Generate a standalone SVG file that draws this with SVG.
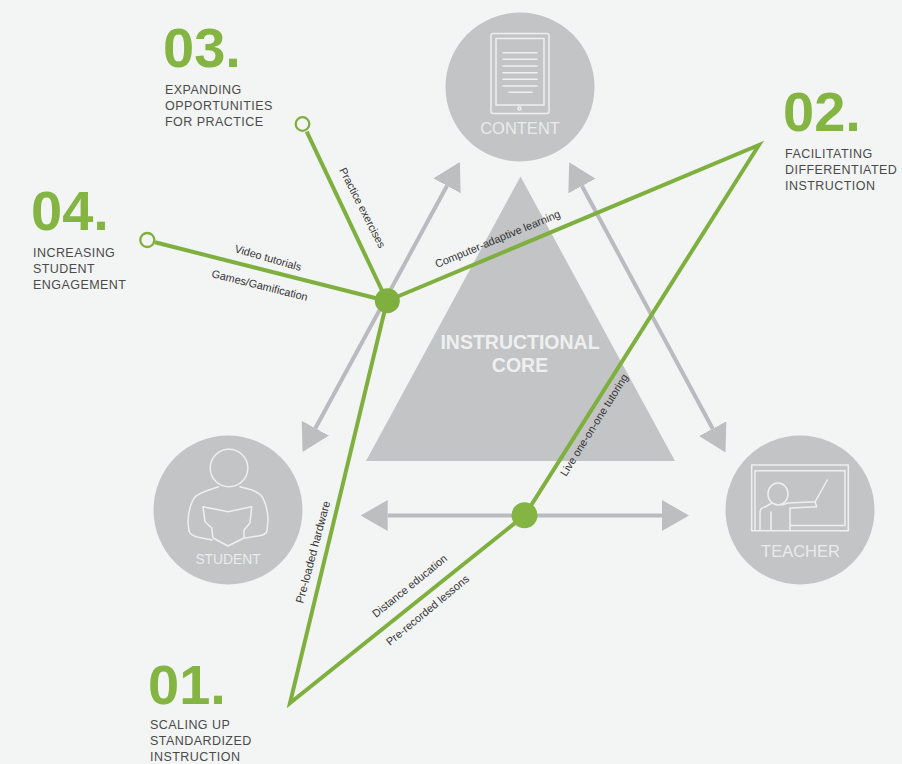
<svg xmlns="http://www.w3.org/2000/svg" width="902" height="764" viewBox="0 0 902 764">
<style>
.bg{fill:#f3f5f5}
.c{fill:#c2c4c6}
.ico{fill:none;stroke:#eef0f0;stroke-width:1.5;stroke-linejoin:round;stroke-linecap:round}
.cl{font:16.5px "Liberation Sans",Arial,sans-serif;fill:#e9ebec;text-anchor:middle}
.g{fill:none;stroke:#7fb03f;stroke-width:4;stroke-linecap:butt;stroke-linejoin:miter}
.a{fill:none;stroke:#b9bbbe;stroke-width:4}
.n{font:700 56px "Liberation Sans",Arial,sans-serif;fill:#84b441}
.d{font:12.5px "Liberation Sans",Arial,sans-serif;fill:#4a4a4a;letter-spacing:.45px}
.l{font:10.9px "Liberation Sans",Arial,sans-serif;fill:#333}
.core{font:700 19.5px "Liberation Sans",Arial,sans-serif;fill:#eef0f0;text-anchor:middle}
</style>
<defs>
<marker id="ah" viewBox="0 0 27 31" refX="0" refY="15.500" markerWidth="27" markerHeight="31" markerUnits="userSpaceOnUse" orient="auto-start-reverse"><path d="M0 0L27 15.500L0 31Z" fill="#bcbec0"/></marker>
</defs>
<rect class="bg" width="902" height="764"/>
<g id="core"><path d="M520.500 176.500L675 461H366Z" fill="#c2c4c6"/><text class="core" x="520" y="349">INSTRUCTIONAL</text><text class="core" x="520" y="372">CORE</text></g>
<g id="content"><circle class="c" cx="520" cy="87" r="74.500"/>
<g class="ico"><rect x="491" y="33.500" width="58" height="80" rx="2"/><path d="M496 38.500H544V105H496Z"/><path d="M503 52.700H537M503 59.300H537M503 66H537M503 72.700H537M503 79.300H537M503 86H537M509 92.300H532"/><circle cx="519.500" cy="108.500" r="1.500"/></g>
<text class="cl" x="520" y="134">CONTENT</text></g>
<g id="student"><circle class="c" cx="228" cy="510" r="74.500"/>
<g class="ico"><circle cx="229" cy="468" r="18.800"/><path d="M218.500 486.700L206 491Q195 495 193 500Q188 510 188 523L189 531Q190 535 197 537L212 540M240 486.700L252 490Q261 494 263 498Q268 509 268 520L267 531Q266 535 258 536L245 538M203 506.700L228 511.700L251.700 506.700L250 523L244 530V538L228 546L213 538L211.700 528L205 521.700Z"/></g>
<text class="cl" x="228" y="564" style="font-size:13.8px">STUDENT</text></g>
<g id="teacher"><circle class="c" cx="800" cy="510" r="74.500"/>
<g class="ico"><rect x="751.700" y="465" width="96.600" height="65.700"/><path d="M755 530V470.700H845V525.500H790M760 530V512Q760 508 765 507L771 503.500M771 530V512M790 530V508L816.700 506.700L815 501.700L788 503L781.700 505M815 502L827.300 480"/><ellipse cx="778" cy="494" rx="10" ry="11"/></g>
<text class="cl" x="800.500" y="556.500">TEACHER</text></g>
<g id="connectors">
<path class="a" d="M447 185.800L315.400 428.200" marker-start="url(#ah)" marker-end="url(#ah)"/>
<path class="a" d="M582 186L712.700 428.700" marker-start="url(#ah)" marker-end="url(#ah)"/>
<path class="a" d="M387.700 515.500H662" marker-start="url(#ah)" marker-end="url(#ah)"/>
<path class="g" d="M387 301L759 145L525 515L290 703L387 301"/>
<path class="g" d="M387 301L306.700 131.700"/>
<path class="g" d="M387 301L155 242.300"/>
<circle cx="302.500" cy="124" r="6.800" fill="#f3f5f5" stroke="#7fb03f" stroke-width="2.300"/>
<circle cx="147.300" cy="240" r="7" fill="#f3f5f5" stroke="#7fb03f" stroke-width="2.300"/>
<circle cx="387.300" cy="300.700" r="12.500" fill="#7fb03f"/>
<circle cx="524.500" cy="515.300" r="13" fill="#84b441"/>
<text class="l" transform="translate(339 170) rotate(63)">Practice exercises</text>
<text class="l" transform="translate(234 252) rotate(16)">Video tutorials</text>
<text class="l" transform="translate(211 277) rotate(14)">Games/Gamification</text>
<text class="l" transform="translate(437 268) rotate(-22.500)">Computer-adaptive learning</text>
<text class="l" transform="translate(566 477) rotate(-58)">Live one-on-one tutoring</text>
<text class="l" transform="translate(303 604) rotate(-75)" style="font-size:11.300px">Pre-loaded hardware</text>
<text class="l" transform="translate(376 618) rotate(-39)">Distance education</text>
<text class="l" transform="translate(390 646) rotate(-39.500)">Pre-recorded lessons</text>
</g>
<g id="item03"><text class="n" x="163" y="67">03.</text><text class="d" x="165" y="94">EXPANDING</text><text class="d" x="165" y="110">OPPORTUNITIES</text><text class="d" x="165" y="126">FOR PRACTICE</text></g>
<g id="item02"><text class="n" x="783" y="131">02.</text><text class="d" x="785" y="158">FACILITATING</text><text class="d" x="785" y="174">DIFFERENTIATED</text><text class="d" x="785" y="190">INSTRUCTION</text></g>
<g id="item04"><text class="n" x="31" y="230">04.</text><text class="d" x="33" y="257">INCREASING</text><text class="d" x="33" y="273">STUDENT</text><text class="d" x="33" y="289">ENGAGEMENT</text></g>
<g id="item01"><text class="n" x="148" y="704">01.</text><text class="d" x="150" y="729">SCALING UP</text><text class="d" x="150" y="745">STANDARDIZED</text><text class="d" x="150" y="761">INSTRUCTION</text></g>
</svg>
